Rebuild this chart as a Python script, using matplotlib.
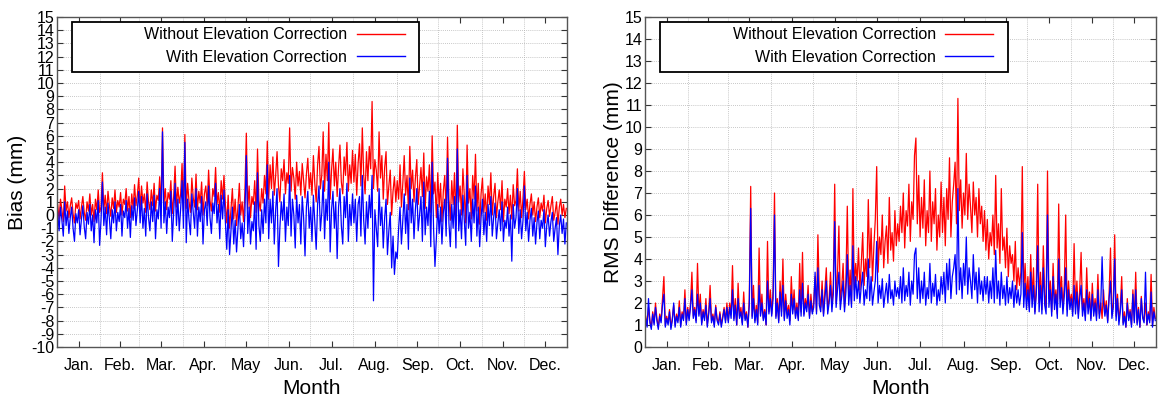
import numpy as np
import matplotlib
matplotlib.use("Agg")
import matplotlib.pyplot as plt
from matplotlib.patches import Rectangle

# ---------------- data (daily resolution) ----------------
months = ["Jan.", "Feb.", "Mar.", "Apr.", "May", "Jun.", "Jul.", "Aug.", "Sep.", "Oct.", "Nov.", "Dec."]
month_days = [31, 28, 31, 30, 31, 30, 31, 31, 30, 31, 30, 31]

bias_without = [
    0.8,-0.3,1.2,0.4,-0.5,2.2,0.3,1.0,-0.2,0.7,1.3,0.1,-0.6,0.9,0.5,1.1,-0.3,0.6,1.4,0.2,-0.4,1.0,0.3,1.6,0.0,0.8,-0.5,1.2,0.4,1.9,0.2,
    0.6,3.2,0.4,1.5,0.1,1.8,0.7,-0.1,1.3,0.5,1.9,0.2,1.1,0.6,1.7,0.0,1.2,0.8,2.0,0.3,1.4,-0.2,1.6,0.5,2.3,0.7,1.5,2.8,
    0.5,2.2,0.9,1.6,0.2,2.5,1.0,0.4,1.9,0.7,2.4,0.3,1.5,1.1,2.9,0.6,6.6,0.8,2.0,0.4,1.7,1.2,2.6,0.1,1.4,3.7,0.6,2.1,0.9,1.6,3.9,
    0.3,6.1,0.5,2.4,1.0,0.2,2.8,1.3,0.6,3.1,0.4,1.8,0.9,2.5,0.0,1.6,2.2,0.7,3.4,1.1,0.3,2.0,1.4,3.6,0.8,1.7,0.2,2.6,1.2,3.0,
    0.8,-0.6,1.5,-1.0,0.4,2.0,-0.3,1.2,-0.8,0.6,2.4,0.0,1.0,-0.5,1.8,6.2,0.5,2.2,-0.2,1.4,0.8,2.6,0.2,5.0,1.1,0.3,2.0,0.9,3.0,1.6,5.6,
    1.2,3.8,2.0,4.4,1.5,3.0,4.8,2.2,1.0,3.5,2.6,4.2,1.6,3.2,2.4,6.6,1.8,3.6,2.8,1.2,4.0,2.2,3.3,1.5,3.9,2.6,1.3,3.1,4.3,2.0,
    3.2,1.5,4.5,2.4,1.0,3.8,5.2,2.0,3.0,6.3,1.8,4.6,2.6,7.0,1.2,3.4,5.0,2.2,4.0,1.4,3.6,5.3,2.5,1.6,4.4,3.0,5.5,1.8,3.8,2.4,4.9,
    2.5,4.6,1.5,3.9,5.4,2.2,6.6,3.0,1.6,4.8,2.6,5.2,3.5,8.6,2.0,4.2,3.4,1.8,6.3,2.8,4.5,1.2,3.6,4.8,0.8,2.2,3.4,0.0,1.8,2.9,1.0,
    2.6,1.2,3.8,0.6,2.4,4.5,1.5,3.0,0.4,5.2,2.0,3.4,1.0,2.8,4.2,0.8,2.2,3.6,1.4,4.7,0.5,2.9,1.8,3.8,0.2,6.0,1.6,2.5,-0.2,3.2,
    0.6,2.4,-0.5,1.8,3.0,0.2,5.9,1.2,-0.4,2.6,0.8,3.2,-0.8,6.8,1.0,2.2,0.0,3.5,1.4,-0.6,5.3,0.9,2.0,-0.3,3.0,1.2,4.6,0.3,2.4,-0.7,1.6,
    2.8,0.2,1.6,-0.4,2.2,0.8,3.2,0.0,1.4,2.4,-0.2,1.0,1.9,0.4,2.6,-0.5,1.2,0.6,2.0,0.1,1.5,-0.3,2.3,0.7,1.1,3.5,0.3,1.8,-0.2,1.3,
    3.3,0.4,1.2,-0.3,0.8,1.6,0.0,1.0,-0.5,0.6,1.3,-0.2,0.9,0.3,1.5,-0.6,0.5,1.1,-0.1,0.7,1.4,-0.4,0.2,1.0,-0.7,0.6,1.2,0.0,0.8,-0.2,0.5,
]
bias_with = [
    0.2,-1.2,0.6,-0.4,-1.6,1.0,-0.8,0.3,-1.4,-0.2,0.6,-1.0,-2.0,0.1,-0.6,0.4,-1.5,-0.3,0.7,-0.9,-1.8,0.2,-0.7,0.8,-1.2,0.0,-2.1,0.4,-0.6,1.1,-2.3,
    -0.4,2.5,-0.8,0.6,-1.5,0.9,-0.3,-1.8,0.4,-0.6,1.0,-1.2,0.2,-0.5,0.8,-1.6,0.3,-0.2,1.1,-1.0,0.5,-1.7,0.7,-0.4,1.3,-0.8,0.4,1.8,
    -0.6,1.4,-1.0,0.5,-1.6,1.6,-0.2,-1.2,1.0,-0.5,1.5,-1.8,0.4,-0.3,2.0,-1.0,6.3,-0.6,1.0,-1.4,0.6,-0.2,1.8,-2.0,0.2,2.4,-0.8,1.2,-1.2,0.5,2.6,
    -1.0,5.5,-2.1,1.2,-0.4,-1.5,1.6,0.2,-1.0,2.0,-1.6,0.6,-0.5,1.4,-2.2,0.4,1.0,-0.8,2.2,-0.2,-1.4,0.9,0.1,2.4,-0.6,0.8,-1.8,1.5,-0.3,1.9,
    -0.5,-2.6,0.4,-3.0,-1.2,0.6,-2.2,-0.4,-2.8,-1.0,0.8,-1.8,-0.6,-2.4,0.2,4.5,-1.4,0.6,-2.2,-0.5,-1.2,1.0,-2.6,3.2,-0.8,-2.0,0.4,-1.4,1.2,-0.6,3.8,
    -1.8,1.2,-0.6,1.8,-2.2,0.4,2.0,-3.9,-1.0,1.0,-0.4,1.6,-2.0,0.6,-0.8,3.0,-1.6,1.2,0.0,-2.5,1.5,-0.6,0.8,-2.2,1.4,-0.2,-3.1,0.6,1.8,-1.0,
    0.6,-2.0,1.5,-0.6,-2.6,0.8,2.2,-1.2,0.2,2.6,-1.8,1.2,-0.4,4.0,-2.8,0.4,1.8,-1.0,1.0,-3.3,0.6,2.0,-0.8,-2.2,1.4,-0.2,2.4,-2.0,0.8,-0.8,1.6,
    -0.6,1.2,-2.0,0.8,1.4,-1.6,3.0,-0.4,-2.2,1.0,-1.0,1.5,-0.2,3.0,-6.5,0.4,-1.0,-2.4,2.0,-0.8,0.6,-2.5,-0.2,1.2,-3.0,-1.2,0.2,-4.0,-1.6,-4.5,-2.8,
    -3.3,-1.0,0.6,-2.2,-0.4,1.6,-1.4,0.8,-2.6,2.8,-0.6,1.2,-1.8,0.4,2.0,-1.2,0.0,1.4,-2.0,2.5,-1.5,0.6,-0.8,1.8,-2.4,4.0,-1.0,-3.9,-1.8,0.8,
    -1.4,0.6,-2.2,0.2,1.2,-1.6,4.3,-0.6,-2.4,0.8,-1.0,1.4,-2.5,5.0,-1.2,0.4,-1.8,1.5,-0.4,-2.3,3.0,-1.0,0.2,-2.0,1.2,-0.6,2.2,-1.6,0.6,-2.4,-0.2,
    1.2,-1.5,0.2,-2.0,0.8,-0.8,1.4,-1.6,-0.2,0.9,-1.8,-0.6,0.4,-1.2,1.0,-2.0,-0.4,-1.0,0.6,-1.6,0.0,-3.5,0.8,-1.0,-0.2,2.0,-1.4,0.4,-1.8,-0.4,
    2.2,-1.2,0.2,-2.0,-0.4,0.5,-1.6,-0.2,-2.2,-0.6,0.3,-1.8,-0.4,-1.0,0.4,-2.4,-0.8,0.0,-1.6,-0.5,0.2,-2.0,-1.0,-0.2,-3.0,-0.8,0.0,-1.4,-0.3,-2.2,-0.6,
]
rms_without = [
    1.4,1.0,1.8,1.2,0.9,1.6,1.1,2.0,1.3,0.9,1.5,1.2,2.2,3.2,1.0,1.4,1.1,1.7,0.9,1.3,1.9,1.0,1.5,1.2,2.1,1.0,1.6,1.3,2.6,1.1,1.8,
    1.3,2.0,3.4,1.4,1.8,1.2,3.8,1.5,2.4,1.1,1.7,1.3,2.2,1.0,1.6,2.8,1.2,1.5,1.0,1.9,1.3,1.1,1.6,1.0,1.4,1.8,1.2,2.0,
    1.2,2.0,1.5,3.7,1.3,2.2,1.0,2.9,1.4,1.8,1.1,2.5,1.3,1.6,0.9,2.2,7.3,1.4,2.8,1.2,1.9,1.1,4.5,1.5,2.4,1.3,1.7,1.0,4.8,1.6,2.6,
    1.5,2.6,7.0,1.4,2.2,1.2,3.0,1.6,4.0,1.3,2.4,1.5,1.9,1.2,3.2,1.7,2.6,1.4,2.0,1.3,3.8,1.6,4.3,1.5,2.2,1.8,2.8,1.4,2.4,1.6,
    2.0,3.2,1.6,5.1,2.4,1.8,3.0,1.5,2.6,3.6,1.7,2.2,3.4,1.9,2.8,7.4,2.0,3.3,5.5,2.1,2.7,3.8,1.8,3.0,6.4,2.3,3.5,2.0,7.2,2.6,3.8,
    3.0,4.5,2.6,3.8,5.2,2.8,4.0,3.2,6.7,3.6,5.4,3.0,4.6,5.8,8.2,3.4,5.0,4.2,6.0,3.6,4.8,5.5,3.8,6.8,4.4,5.2,3.9,6.2,4.6,5.6,
    4.8,6.4,5.2,7.0,4.5,6.2,5.5,7.4,4.8,6.6,5.8,8.7,9.5,5.6,7.8,5.0,6.8,5.4,7.6,4.6,6.2,5.2,8.0,4.8,6.6,5.6,7.2,4.4,6.0,5.0,7.5,
    5.2,6.8,4.6,7.2,5.8,8.6,5.0,6.6,7.4,8.4,5.6,11.3,6.2,7.6,5.4,7.0,6.0,8.8,5.8,7.4,6.4,5.2,7.5,6.0,6.8,5.0,7.2,5.6,6.4,4.8,6.2,
    4.4,5.8,4.0,5.2,4.6,6.0,4.2,7.8,4.5,5.6,3.8,7.2,4.4,5.0,3.6,5.4,3.2,4.6,3.8,4.2,3.0,4.8,2.6,3.6,2.8,3.4,8.2,2.4,3.8,2.2,
    3.2,1.8,4.2,2.2,3.6,1.6,2.8,7.4,2.0,3.4,1.7,4.6,2.4,1.8,8.0,2.2,3.0,1.6,3.8,2.0,2.6,1.5,6.5,2.2,3.2,1.8,2.8,6.0,1.7,3.0,2.0,
    2.4,1.6,4.7,1.8,3.0,1.5,2.6,4.3,1.7,2.2,1.4,3.6,1.8,2.5,1.3,2.9,1.6,2.2,1.4,3.3,1.5,2.0,1.3,2.6,1.6,2.1,1.2,2.4,4.5,1.5,
    2.0,5.1,1.4,2.4,1.2,1.8,3.2,1.1,1.6,0.9,2.2,1.3,1.7,1.0,2.6,1.2,3.4,1.1,1.8,0.9,2.3,1.4,1.2,2.0,1.0,1.6,1.2,3.3,1.0,1.8,1.3,
]
rms_with = [
    1.3,0.9,2.2,1.1,0.8,1.5,1.0,1.8,1.2,0.8,1.4,1.1,1.9,2.4,0.9,1.3,1.0,1.6,0.8,1.2,2.0,0.9,1.4,1.1,1.8,0.9,1.5,1.2,2.2,1.0,1.7,
    1.2,1.8,2.6,1.3,1.7,1.1,2.4,1.4,2.0,1.0,1.6,1.2,1.9,0.9,1.5,2.2,1.1,1.4,0.9,1.8,1.2,1.0,1.5,0.9,1.3,1.7,1.1,1.8,
    1.1,1.8,1.3,2.6,1.2,1.9,1.0,2.2,1.3,1.6,1.0,2.0,1.2,1.5,0.9,1.9,6.3,1.3,2.2,1.1,1.7,1.0,2.8,1.4,2.0,1.2,1.6,1.0,3.0,1.5,2.2,
    1.4,2.2,6.0,1.3,2.0,1.1,2.5,1.4,2.8,1.2,2.1,1.3,1.7,1.0,2.4,1.5,2.2,1.3,1.8,1.2,2.6,1.4,2.9,1.4,2.0,1.6,2.4,1.3,2.1,1.5,
    1.8,3.4,1.5,3.6,1.9,1.6,2.6,1.4,2.2,3.0,1.5,2.0,2.8,1.6,2.4,5.7,1.8,2.6,3.4,1.7,2.3,3.0,1.6,2.5,4.2,1.9,2.8,1.8,4.6,2.1,3.2,
    2.2,3.0,2.0,2.8,3.4,1.9,2.6,2.2,4.0,2.1,3.2,1.9,2.5,3.0,4.8,2.0,2.8,2.2,3.1,1.8,2.4,2.9,2.0,3.3,2.2,2.6,1.9,3.0,2.3,2.7,
    2.2,3.2,2.0,3.6,2.1,2.8,2.3,3.4,1.9,3.0,2.4,4.2,4.5,2.2,3.6,2.0,3.0,2.2,3.4,1.9,2.7,2.2,3.8,2.0,2.9,2.3,3.3,1.9,2.6,2.1,3.2,
    2.4,3.4,2.0,3.8,2.6,4.0,2.2,3.2,3.6,4.2,2.4,7.2,2.6,3.6,2.2,3.8,2.8,5.0,2.4,3.6,3.0,2.2,4.2,2.6,3.4,2.0,3.6,2.4,3.0,2.1,3.2,
    2.4,3.2,2.0,3.0,2.2,3.6,2.0,4.4,2.2,3.0,1.9,3.4,2.2,2.8,1.9,3.2,2.0,2.7,2.2,3.0,1.8,2.8,2.0,2.6,1.9,2.4,5.2,1.8,2.9,1.7,
    2.6,1.6,3.4,1.8,2.8,1.5,2.4,4.6,1.6,2.8,1.5,3.6,1.9,1.5,6.0,1.8,2.6,1.4,3.2,1.7,2.4,1.3,4.0,1.8,2.7,1.5,2.3,3.6,1.4,2.6,1.7,
    2.2,1.4,2.8,1.5,2.5,1.3,2.2,2.8,1.4,2.0,1.2,2.6,1.5,2.2,1.2,2.4,1.4,2.0,1.2,2.6,1.3,1.8,4.1,2.0,1.4,1.9,1.1,2.2,3.0,1.3,
    1.8,4.0,1.2,2.2,1.0,1.6,2.6,1.0,1.4,0.9,2.0,1.2,1.6,0.9,2.4,1.1,2.6,1.0,1.7,0.9,2.2,1.3,1.1,3.4,1.0,1.5,1.1,2.5,0.9,1.6,1.2,
]

label_without = "Without Elevation Correction"
label_with = "With Elevation Correction"

# ---------------- figure ----------------
plt.rcParams['font.family'] = ['Liberation Sans', 'DejaVu Sans']
plt.rcParams['axes.unicode_minus'] = False

fig = plt.figure(figsize=(11.59, 3.96), dpi=100)
ax1 = fig.add_axes([57/1159, 49/396, 510/1159, 330/396])
ax2 = fig.add_axes([645/1159, 49/396, 511/1159, 330/396])

bounds = np.concatenate([[0], np.cumsum(month_days)])
centers = (bounds[:-1] + bounds[1:]) / 2.0


def panel(ax, red, blue, ylim, ylabel, ylabelpad):
    xr = np.linspace(0.5, 364.5, len(red))
    xb = np.linspace(0.5, 364.5, len(blue))
    ax.plot(xr, red, color='#ff0000', lw=0.9, label=label_without, zorder=3)
    ax.plot(xb, blue, color='#0000ff', lw=0.9, label=label_with, zorder=4)
    ax.set_xlim(0, 365)
    ax.set_ylim(*ylim)
    ax.set_yticks(np.arange(ylim[0], ylim[1] + 1, 1))
    ax.set_xticks(centers)
    ax.set_xticklabels(months)
    ax.set_xticks(bounds[1:-1], minor=True)
    ax.tick_params(axis='both', which='major', direction='in', top=True, right=True,
                   length=4, width=0.8, labelsize=11.5, colors='#333333', labelcolor='black')
    ax.tick_params(axis='x', which='minor', length=0, top=True, bottom=True)
    ax.tick_params(axis='x', which='major', pad=8)
    ax.tick_params(axis='y', which='major', pad=2)
    ax.grid(True, axis='y', which='major', color='#b5b5b5', ls=(0, (1, 1.5)), lw=0.6)
    ax.grid(True, axis='x', which='minor', color='#b5b5b5', ls=(0, (1, 1.5)), lw=0.6)
    for s in ax.spines.values():
        s.set_color('#555555')
        s.set_linewidth(1.0)
        s.set_zorder(6)
    ax.set_xlabel("Month", fontsize=15, labelpad=4)
    ax.set_ylabel(ylabel, fontsize=15, labelpad=ylabelpad)
    # legend box (gnuplot-style wide key box)
    ax.add_patch(Rectangle((0.03, 0.833), 0.68, 0.152, transform=ax.transAxes,
                           facecolor='white', edgecolor='black', lw=1.3, zorder=8))
    leg = ax.legend(loc='upper right', bbox_to_anchor=(0.688, 0.978),
                    markerfirst=False, frameon=False, fontsize=11.5,
                    handlelength=3.0, handletextpad=0.6,
                    borderpad=0.2, labelspacing=0.45, borderaxespad=0)
    for line in leg.get_lines():
        line.set_linewidth(1.0)
    leg.set_zorder(10)


panel(ax1, bias_without, bias_with, (-10, 15), "Bias (mm)", 3)
panel(ax2, rms_without, rms_with, (0, 15), "RMS Difference (mm)", 1)

fig.savefig("out.png", dpi=100)
